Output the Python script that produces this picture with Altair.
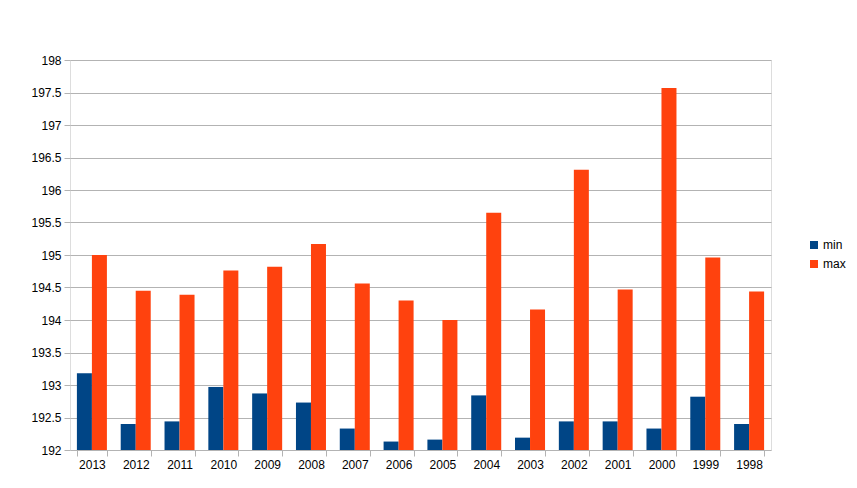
import altair as alt
import pandas as pd

years = ["2013", "2012", "2011", "2010", "2009", "2008", "2007", "2006",
         "2005", "2004", "2003", "2002", "2001", "2000", "1999", "1998"]
min_vals = [193.18, 192.40, 192.44, 192.97, 192.87, 192.73, 192.33, 192.13,
            192.16, 192.84, 192.19, 192.44, 192.44, 192.33, 192.82, 192.40]
max_vals = [195.00, 194.45, 194.39, 194.76, 194.82, 195.17, 194.56, 194.30,
            194.00, 195.65, 194.16, 196.31, 194.47, 197.57, 194.96, 194.44]
series = ["min", "max"]
colors = ["#004586", "#ff420e"]
y_ticks = [192 + 0.5 * i for i in range(13)]

rows = []
for y, a, b in zip(years, min_vals, max_vals):
    rows.append({"year": y, "series": "min", "value": a})
    rows.append({"year": y, "series": "max", "value": b})
df = pd.DataFrame(rows)

font = "Liberation Sans"

chart = alt.Chart(df).mark_bar().encode(
    x=alt.X("year:N", sort=years, title=None,
            scale=alt.Scale(paddingInner=0.315, paddingOuter=0.1575),
            axis=alt.Axis(labelAngle=0, tickBand="extent", tickSize=6,
                          tickColor="#b3b3b3", domain=False, labelPadding=3,
                          labelFontSize=12, labelColor="#000000", labelFont=font)),
    xOffset=alt.XOffset("series:N", sort=series,
                        scale=alt.Scale(domain=series, paddingInner=0, paddingOuter=0)),
    y=alt.Y("value:Q", title=None,
            scale=alt.Scale(domain=[192, 198], zero=False, nice=False),
            axis=alt.Axis(values=y_ticks, format="~g", tickSize=6, tickColor="#b3b3b3",
                          domain=False, grid=True, gridColor="#b3b3b3", labelPadding=3,
                          labelFontSize=12, labelColor="#000000", labelFont=font)),
    y2=alt.datum(192),
    color=alt.Color("series:N", sort=series,
                    scale=alt.Scale(domain=series, range=colors),
                    legend=alt.Legend(title=None, orient="none", legendX=738, legendY=179,
                                      symbolType="square", symbolSize=64,
                                      symbolStrokeWidth=0, labelFontSize=12,
                                      labelFont=font, labelColor="#000000",
                                      rowPadding=7, labelOffset=3)),
).properties(
    width=701, height=390,
    autosize=alt.AutoSizeParams(type="none"),
    padding={"left": 62, "top": 52, "right": 76, "bottom": 26},
).configure_view(
    stroke="#b3b3b3", strokeWidth=1
).configure(background="white")

chart.save("out.html", embed_options={"renderer": "svg", "actions": False})
